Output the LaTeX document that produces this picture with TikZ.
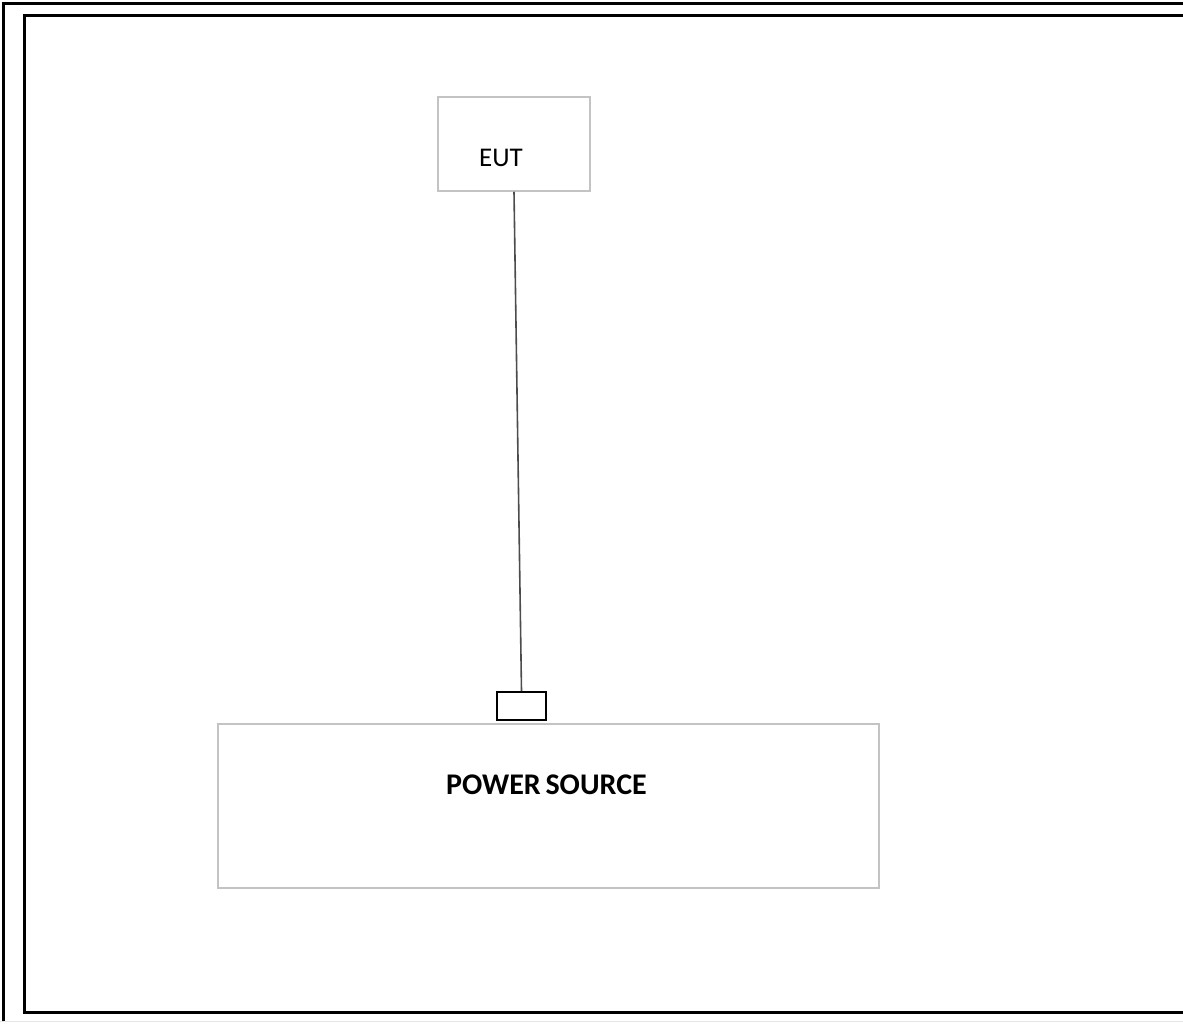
\documentclass[tikz,border=0pt]{standalone}
\usepackage{fontspec}
\setmainfont{Carlito}
\usetikzlibrary{positioning}
\definecolor{boxgray}{RGB}{195,195,195}
\tikzstyle{unit} = [rectangle, draw=boxgray, line width=1.5pt, fill=white, inner sep=0pt]
\tikzstyle{plugbox} = [rectangle, draw=black, line width=1.6pt, fill=white, minimum width=49pt, minimum height=28pt, inner sep=0pt]
\tikzstyle{cable} = [line width=1.6pt, draw=black!70]
\tikzstyle{frame} = [line width=3pt, black]

\begin{document}
\begin{tikzpicture}[x=1pt, y=-1pt]
          \useasboundingbox (0,0) rectangle (1183,1023); %
          %% Frame
          \draw [frame] (3,1021) -- (3,3) -- (1183,3); %
          \draw [frame] (1183,15) -- (24,15) -- (24,1012) -- (1183,1012); %
          \draw [line width=1pt, black!10] (0,1021) -- (1183,1021); %

          \node (eut)   [unit, minimum width=152pt, minimum height=94pt,
                         label={[font=\fontsize{27}{30}\selectfont, xshift=-13pt, yshift=-14pt]center:EUT}] at (514,144) {}; %
          \node (power) [unit, minimum width=661pt, minimum height=164pt,
                         label={[font=\fontsize{30}{32}\selectfont\bfseries, xshift=-2pt, yshift=21pt]center:POWER\hspace{-2pt} SOURCE}] at (548.5,806) {}; %
          \node (plug)  [plugbox] at (521.5,706) {}; %

          %% Connections
          \draw [cable] (eut.south) -- (plug.north); %
        \end{tikzpicture}
\end{document}
